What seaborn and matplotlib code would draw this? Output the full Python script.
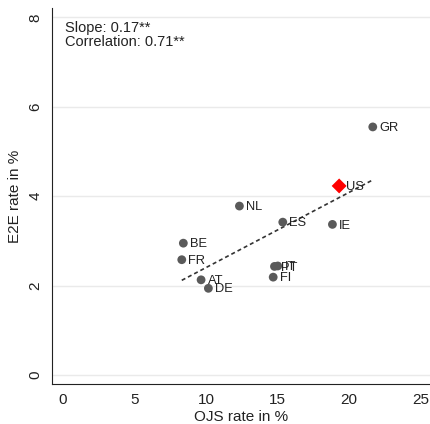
import numpy as np
import pandas as pd
import matplotlib
matplotlib.use("Agg")
import matplotlib.pyplot as plt
import seaborn as sns

countries = ["GR", "NL", "ES", "IE", "BE", "FR", "PT", "IT", "FI", "AT", "DE"]
ojs = [21.65, 12.33, 15.36, 18.83, 8.41, 8.30, 14.78, 15.01, 14.69, 9.65, 10.16]
e2e = [5.55, 3.78, 3.42, 3.37, 2.95, 2.58, 2.43, 2.44, 2.19, 2.13, 1.94]
us_label = ["US"]
us_ojs = [19.30]
us_e2e = [4.23]
annot_lines = ["Slope: 0.17**", "Correlation: 0.71**"]
xticks = [0, 5, 10, 15, 20, 25]
yticks = [0, 2, 4, 6, 8]

df = pd.DataFrame({"country": countries, "ojs": ojs, "e2e": e2e})
df_us = pd.DataFrame({"country": us_label, "ojs": us_ojs, "e2e": us_e2e})
df_all = pd.concat([df, df_us], ignore_index=True)

sns.set_style("white")
plt.rcParams["font.family"] = ["Liberation Sans", "DejaVu Sans"]

fig = plt.figure(figsize=(4.30, 4.24), dpi=100)
ax = fig.add_axes([52/430, (424-384)/424, (430-52)/430, (384-8)/424])

for y in yticks:
    ax.axhline(y, color="#eaeaea", lw=1.0, zorder=0)

sns.regplot(data=df_all, x="ojs", y="e2e", ax=ax, scatter=False, ci=None,
            truncate=True, line_kws=dict(color="#333333", lw=1.2, ls=(0, (2.4, 1.8))))

sns.scatterplot(data=df, x="ojs", y="e2e", ax=ax, color="#5a5a5a", s=40,
                edgecolor="none", zorder=3)
sns.scatterplot(data=df_us, x="ojs", y="e2e", ax=ax, color="#ff0000", marker="D",
                s=58, edgecolor="none", zorder=4)

for d in (df, df_us):
    for _, r in d.iterrows():
        ax.annotate(r["country"], (r["ojs"], r["e2e"]), xytext=(4.8, -0.8),
                    textcoords="offset points", va="center", ha="left",
                    fontsize=9.3, color="#222222", zorder=5)

ax.text(0.034, 0.965, annot_lines[0] + "\n" + annot_lines[1], transform=ax.transAxes,
        va="top", ha="left", fontsize=10.5, color="#222222", linespacing=1.0)

ax.set_xlim(-0.77, 25.65)
ax.set_ylim(-0.2, 8.21)
ax.set_xticks(xticks)
ax.set_yticks(yticks)
ax.set_xticklabels([str(t) for t in xticks], fontsize=11)
ax.set_yticklabels([str(t) for t in yticks], fontsize=11, rotation=90, va="center")
ax.tick_params(axis="both", direction="out", length=4.3, width=0.8, color="#222222",
               labelcolor="#222222", pad=2.5)
ax.set_xlabel("OJS rate in %", fontsize=11, color="#222222", labelpad=2)
ax.set_ylabel("E2E rate in %", fontsize=11, color="#222222", labelpad=5)

for s in ["top", "right"]:
    ax.spines[s].set_visible(False)
for s in ["left", "bottom"]:
    ax.spines[s].set_color("#222222")
    ax.spines[s].set_linewidth(0.8)

fig.savefig("out.png", dpi=100)
